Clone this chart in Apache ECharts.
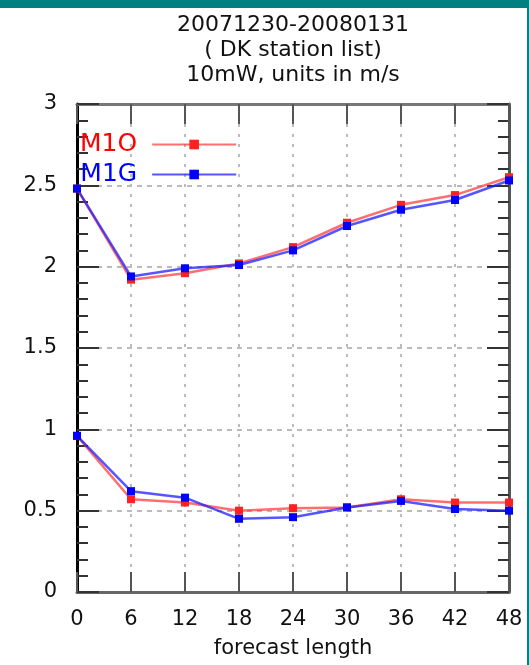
<!DOCTYPE html>
<html>
<head>
<meta charset="utf-8">
<script src="https://cdn.jsdelivr.net/npm/echarts@6/dist/echarts.min.js"></script>
<style>
  html, body { margin: 0; padding: 0; background: #fff; }
  #chart { width: 529px; height: 665px; }
</style>
</head>
<body>
<div id="chart"></div>
<script>
// forecast length (hours)
var hours = [0, 6, 12, 18, 24, 30, 36, 42, 48]
// upper curves
var m1oUpper = [2.48, 1.92, 1.96, 2.02, 2.12, 2.27, 2.38, 2.44, 2.55]
var m1gUpper = [2.48, 1.94, 1.99, 2.01, 2.10, 2.25, 2.35, 2.41, 2.53]
// lower curves
var m1oLower = [0.96, 0.57, 0.55, 0.50, 0.515, 0.52, 0.57, 0.55, 0.55]
var m1gLower = [0.96, 0.62, 0.58, 0.45, 0.46, 0.52, 0.56, 0.51, 0.50]

var titleLines = ['20071230-20080131', '( DK station list)', '10mW, units in m/s']

function pairs(ys) {
  return hours.map(function (h, i) { return [h, ys[i]] })
}

var font = '"DejaVu Sans", "Liberation Sans", Arial, sans-serif'
var redLine = 'rgba(255, 50, 50, 0.7)'
var blueLine = 'rgba(30, 30, 255, 0.75)'

function makeSeries(name, ys, lineColor, dotColor) {
  return {
    name: name,
    type: 'line',
    data: pairs(ys),
    symbol: 'rect',
    symbolSize: 8,
    lineStyle: { color: lineColor, width: 2.5 },
    itemStyle: { color: dotColor },
    animation: false
  }
}

var chart = echarts.init(document.getElementById('chart'))
chart.setOption({
  backgroundColor: '#fff',
  textStyle: { fontFamily: font },
  title: {
    text: titleLines.join('\n'),
    left: 288,
    top: 8,
    textAlign: 'center',
    textStyle: { fontFamily: font, fontSize: 22, fontWeight: 'normal', color: '#111', lineHeight: 25 }
  },
  graphic: [
    { type: 'rect', shape: { x: 0, y: 0, width: 529, height: 8 }, style: { fill: '#008080' } },
    { type: 'rect', shape: { x: 527, y: 0, width: 2, height: 665 }, style: { fill: '#008080' } }
  ],
  legend: {
    orient: 'vertical',
    left: 80,
    top: 132,
    padding: 0,
    align: 'right',
    itemWidth: 84,
    itemHeight: 12,
    itemGap: 5,
    textStyle: { fontFamily: font, fontSize: 25, padding: [0, 10, 0, 0] },
    data: [
      { name: 'M1O', textStyle: { color: '#ff0000' } },
      { name: 'M1G', textStyle: { color: '#0000ff' } }
    ]
  },
  grid: { left: 77, right: 20, top: 104, bottom: 73 },
  xAxis: [
    {
      type: 'value', min: 0, max: 48, interval: 6,
      name: 'forecast length', nameLocation: 'middle', nameGap: 46,
      nameTextStyle: { fontFamily: font, fontSize: 21, color: '#111' },
      axisLine: { onZero: false, lineStyle: { color: '#666', width: 3 } },
      axisTick: { inside: true, length: 20, lineStyle: { color: '#555', width: 2 } },
      axisLabel: { margin: 17, fontSize: 21, color: '#111', fontFamily: font },
      splitLine: { show: true, lineStyle: { color: '#bbb', type: [3, 7], width: 2 } }
    },
    {
      type: 'value', min: 0, max: 48, interval: 6, position: 'top',
      axisLine: { onZero: false, lineStyle: { color: '#777', width: 3 } },
      axisTick: { inside: true, length: 20, lineStyle: { color: '#555', width: 2 } },
      axisLabel: { show: false },
      splitLine: { show: false }
    }
  ],
  yAxis: [
    {
      type: 'value', min: 0, max: 3, interval: 0.5,
      axisLine: { show: true, onZero: false, lineStyle: { color: '#000', width: 3 } },
      axisTick: { inside: true, length: 22, lineStyle: { color: '#333', width: 2 } },
      minorTick: { show: true, splitNumber: 5, length: 11, lineStyle: { color: '#333', width: 2 } },
      axisLabel: { margin: 20, fontSize: 21, color: '#111', fontFamily: font },
      splitLine: { show: true, lineStyle: { color: '#bbb', type: [5, 5], width: 2 } }
    },
    {
      type: 'value', min: 0, max: 3, interval: 0.5, position: 'right',
      axisLine: { show: true, onZero: false, lineStyle: { color: '#555', width: 3 } },
      axisTick: { inside: true, length: 22, lineStyle: { color: '#333', width: 2 } },
      minorTick: { show: true, splitNumber: 5, length: 11, lineStyle: { color: '#333', width: 2 } },
      axisLabel: { show: false },
      splitLine: { show: false }
    }
  ],
  series: [
    makeSeries('M1O', m1oUpper, redLine, '#ff2020'),
    makeSeries('M1O', m1oLower, redLine, '#ff2020'),
    makeSeries('M1G', m1gUpper, blueLine, '#0000ff'),
    makeSeries('M1G', m1gLower, blueLine, '#0000ff')
  ]
})
</script>
</body>
</html>
